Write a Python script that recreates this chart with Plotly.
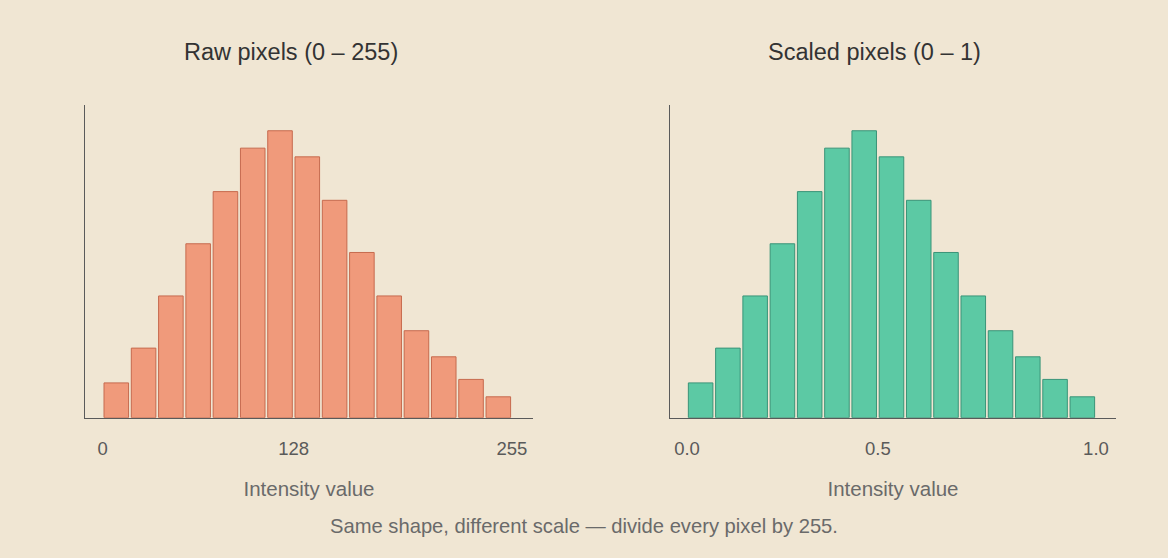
import plotly.graph_objects as go

# ---- data ----
n_bins = 15
counts = [20, 40, 70, 100, 130, 155, 165, 150, 125, 95, 70, 50, 35, 22, 12]
raw_max = 255
scaled_max = 1.0
raw_tick_labels = ["0", "128", "255"]
scaled_tick_labels = ["0.0", "0.5", "1.0"]
tick_bin_index = [0, 7, 15]
titles = ["Raw pixels (0 – 255)", "Scaled pixels (0 – 1)"]
x_title = "Intensity value"
footnote = "Same shape, different scale — divide every pixel by 255."

# ---- derived ----
raw_w = raw_max / n_bins
sc_w = scaled_max / n_bins
raw_centers = [raw_w * (i + 0.5) for i in range(n_bins)]
sc_centers = [sc_w * (i + 0.5) for i in range(n_bins)]
raw_ticks = [raw_w * i for i in tick_bin_index]
sc_ticks = [sc_w * i for i in tick_bin_index]

BG = "#F0E6D3"
FONT = "Liberation Sans, Arial, Helvetica, sans-serif"
AXIS = "#5a5a5a"

fig = go.Figure()
fig.add_trace(go.Bar(x=raw_centers, y=counts, xaxis="x", yaxis="y",
                     marker=dict(color="#F09A7B", line=dict(color="#C66A4E", width=1)),
                     hoverinfo="skip", showlegend=False))
fig.add_trace(go.Bar(x=sc_centers, y=counts, xaxis="x2", yaxis="y2",
                     marker=dict(color="#5CC9A4", line=dict(color="#3A9478", width=1)),
                     hoverinfo="skip", showlegend=False))

xcommon = dict(showgrid=False, zeroline=False, showline=True, linecolor=AXIS, linewidth=1,
               ticks="", tickfont=dict(size=18.5, color="#5a5a5a", family=FONT),
               ticklabelstandoff=14,
               title=dict(text=x_title, font=dict(size=20.5, color="#6a6a6a", family=FONT), standoff=23))
ycommon = dict(showgrid=False, zeroline=False, showline=True, linecolor=AXIS, linewidth=1,
               ticks="", showticklabels=False, range=[0, 180])

ydom = [0.2515, 0.8124]
fig.update_layout(
    width=1168, height=558,
    paper_bgcolor=BG, plot_bgcolor=BG,
    margin=dict(l=0, r=0, t=0, b=0),
    bargap=0.1,
    font=dict(family=FONT),
    xaxis=dict(domain=[0.0729, 0.4562], range=[-10.9, 268.0], anchor="y",
               tickvals=raw_ticks, ticktext=raw_tick_labels, **xcommon),
    yaxis=dict(domain=ydom, anchor="x", **ycommon),
    xaxis2=dict(domain=[0.5734, 0.9557], range=[-0.0422, 1.0496], anchor="y2",
                tickvals=sc_ticks, ticktext=scaled_tick_labels, **xcommon),
    yaxis2=dict(domain=ydom, anchor="x2", **ycommon),
    annotations=[
        dict(text=titles[0], x=0.2494, y=0.906, xref="paper", yref="paper",
             showarrow=False, xanchor="center", yanchor="middle",
             font=dict(size=23.5, color="#333333", family=FONT)),
        dict(text=titles[1], x=0.749, y=0.906, xref="paper", yref="paper",
             showarrow=False, xanchor="center", yanchor="middle",
             font=dict(size=23.5, color="#333333", family=FONT)),
        dict(text=footnote, x=0.5, y=0.058, xref="paper", yref="paper",
             showarrow=False, xanchor="center", yanchor="middle",
             font=dict(size=20.2, color="#6a6a6a", family=FONT)),
    ],
)

fig.write_html("out.html")
